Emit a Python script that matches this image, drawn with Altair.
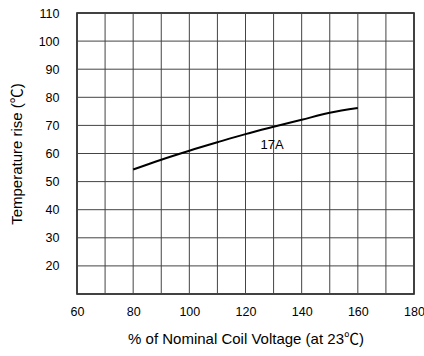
import altair as alt
import pandas as pd

voltage = [80, 90, 100, 110, 120, 130, 140, 150, 160]
temp_rise = [54.3, 57.8, 61.0, 64.0, 66.9, 69.5, 72.0, 74.5, 76.2]
label_text = ["17A"]
label_x = [129.5]
label_y = [63.0]

x_grid = list(range(60, 181, 10))
y_grid = list(range(10, 111, 10))
x_labels = list(range(60, 181, 20))
y_labels = list(range(20, 111, 10))

df = pd.DataFrame({"v": voltage, "t": temp_rise})
lab = pd.DataFrame({"v": label_x, "t": label_y, "txt": label_text})
xg = pd.DataFrame({"v": x_grid})
yg = pd.DataFrame({"t": y_grid})

FONT = "Liberation Sans"
TFONT = "Liberation Sans, Noto Sans CJK JP"
xscale = alt.Scale(domain=[60, 180], nice=False, zero=False)
yscale = alt.Scale(domain=[10, 110], nice=False, zero=False)

x_axis = alt.Axis(
    values=x_labels,
    title="% of Nominal Coil Voltage (at 23℃)",
    titleFontSize=15, titleFontWeight="normal", titleFont=TFONT,
    titlePadding=14,
    labelFont=FONT, labelFontSize=12.5, labelPadding=11, labelColor="#000",
    ticks=False, domain=False, grid=False,
    labelFlush=False, labelOverlap=False,
)
y_axis = alt.Axis(
    values=y_labels,
    title="Temperature rise (℃)",
    titleFontSize=15, titleFontWeight="normal", titleFont=TFONT,
    titlePadding=14,
    labelFont=FONT, labelFontSize=12.5, labelPadding=18, labelColor="#000",
    ticks=False, domain=False, grid=False,
    labelFlush=False, labelOverlap=False,
)

def xe():
    return alt.X("v:Q", scale=xscale, axis=x_axis)

def ye():
    return alt.Y("t:Q", scale=yscale, axis=y_axis)

vgrid = alt.Chart(xg).mark_rule(color="#444", strokeWidth=1).encode(x=xe())
hgrid = alt.Chart(yg).mark_rule(color="#444", strokeWidth=1).encode(y=ye())
line = alt.Chart(df).mark_line(color="black", strokeWidth=2, interpolate="monotone").encode(
    x=xe(), y=ye()
)
text = alt.Chart(lab).mark_text(font=FONT, fontSize=13, color="black").encode(
    x=xe(), y=ye(), text="txt:N"
)

chart = (
    alt.layer(vgrid, hgrid, line, text)
    .properties(
        width=337, height=281,
        autosize=alt.AutoSizeParams(type="none"),
        padding={"left": 77, "top": 13, "right": 10, "bottom": 62},
        background="white",
    )
    .configure_view(stroke="black", strokeWidth=1.5)
)

chart.save("out.html", embed_options={"renderer": "svg", "actions": False})
